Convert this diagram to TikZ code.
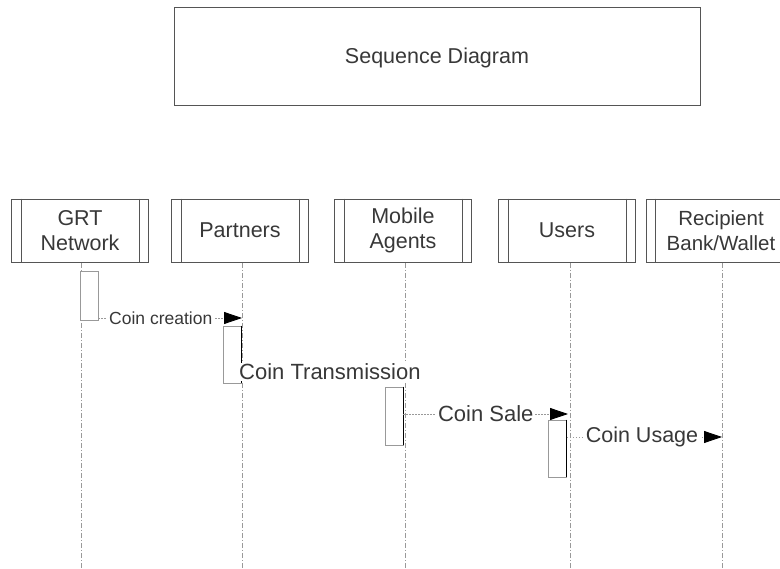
\documentclass[tikz,border=0pt]{standalone}
\usepackage{fontspec}
\setmainfont{Liberation Sans}
\usetikzlibrary{arrows.meta}
\definecolor{txt}{HTML}{383838}
\definecolor{edge}{HTML}{555555}
\definecolor{lite}{HTML}{999999}
\begin{document}
\begin{tikzpicture}[x=1pt,y=-1pt,
  head/.style={draw=edge,line width=0.9pt,minimum width=137pt,minimum height=63pt,inner sep=0pt,align=center,font=\fontsize{21.5}{25}\selectfont,text=txt},
  act/.style={draw=lite,fill=white,line width=0.9pt,minimum width=18pt,inner sep=0pt},
  life/.style={draw=lite,line width=0.8pt,dash pattern=on 5pt off 2pt on 1pt off 2pt},
  tip/.style={-{Triangle[length=18pt,width=12pt,fill=black,color=black]},draw=lite,line width=0.8pt,dash pattern=on 1.5pt off 1.5pt},
  lbl/.style={fill=white,inner sep=2pt,text=txt}]
\useasboundingbox (0,0) rectangle (780,569);
% title
\node[draw=edge,line width=0.8pt,minimum width=526pt,minimum height=98pt,font=\fontsize{21.5}{25}\selectfont,text=txt] (title) at (437,56) {};
\node[text=txt,font=\fontsize{21.5}{25}\selectfont] (ttext) at (437,58) {Sequence Diagram};
% heads
\node[head] (h1) at (80,230.5) {GRT\\Network};
\node[head] (h2) at (240,230.5) {Partners};
\node[head] (h3) at (403,230.5) {Mobile\\Agents};
\node[head] (h4) at (567,230.5) {Users};
\node[head,minimum width=150pt,font=\fontsize{20.5}{24.5}\selectfont] (h5) at (721,230.5) {Recipient\\Bank/Wallet};
\foreach \h in {h1,h2,h3,h4,h5}{
  \draw[edge,line width=0.7pt] ([xshift=10pt]\h.north west) -- ([xshift=10pt]\h.south west);
  \draw[edge,line width=0.7pt] ([xshift=-10pt]\h.north east) -- ([xshift=-10pt]\h.south east);
}
% lifeline ends
\coordinate (e1) at (81.5,569);
\coordinate (e2) at (242,569);
\coordinate (e3) at (405,569);
\coordinate (e4) at (570,569);
\coordinate (e5) at (722,569);
\coordinate (s1) at (81.5,263);
\coordinate (s2) at (242,263);
\coordinate (s3) at (405,263);
\coordinate (s4) at (570,263);
\coordinate (s5) at (722,263);
\foreach \i in {1,...,5}{\draw[life] (s\i) -- (e\i);}
% activations
\node[act,minimum height=49pt] (a1) at (89,295.5) {};
\node[act,minimum height=57pt] (a2) at (232,354.5) {};
\node[act,minimum height=58pt] (a3) at (394,416) {};
\node[act,minimum height=57pt] (a4) at (557.5,448.5) {};
\foreach \a in {a2,a3,a4}{\draw[black,line width=1pt] (\a.north east) -- (\a.south east);}
% messages
\coordinate (m1) at (242,318);
\draw[tip] (a1.east |- m1) -- (m1) node[lbl,pos=0.434,font=\fontsize{17.5}{20}\selectfont] (l1) {Coin creation};
\node[lbl,anchor=west,inner sep=1pt,font=\fontsize{22}{25}\selectfont] (l2) at (238,372) {Coin Transmission};
\coordinate (m3) at (568,414);
\draw[tip] (a3.east |- m3) -- (m3) node[lbl,pos=0.5,font=\fontsize{22}{25}\selectfont] (l3) {Coin Sale};
\coordinate (m4) at (722,437);
\draw[tip] (a4.east |- m4) -- (m4) node[lbl,pos=0.484,inner sep=1.5pt,font=\fontsize{21.5}{25}\selectfont] (l4) {Coin Usage};
\end{tikzpicture}
\end{document}
